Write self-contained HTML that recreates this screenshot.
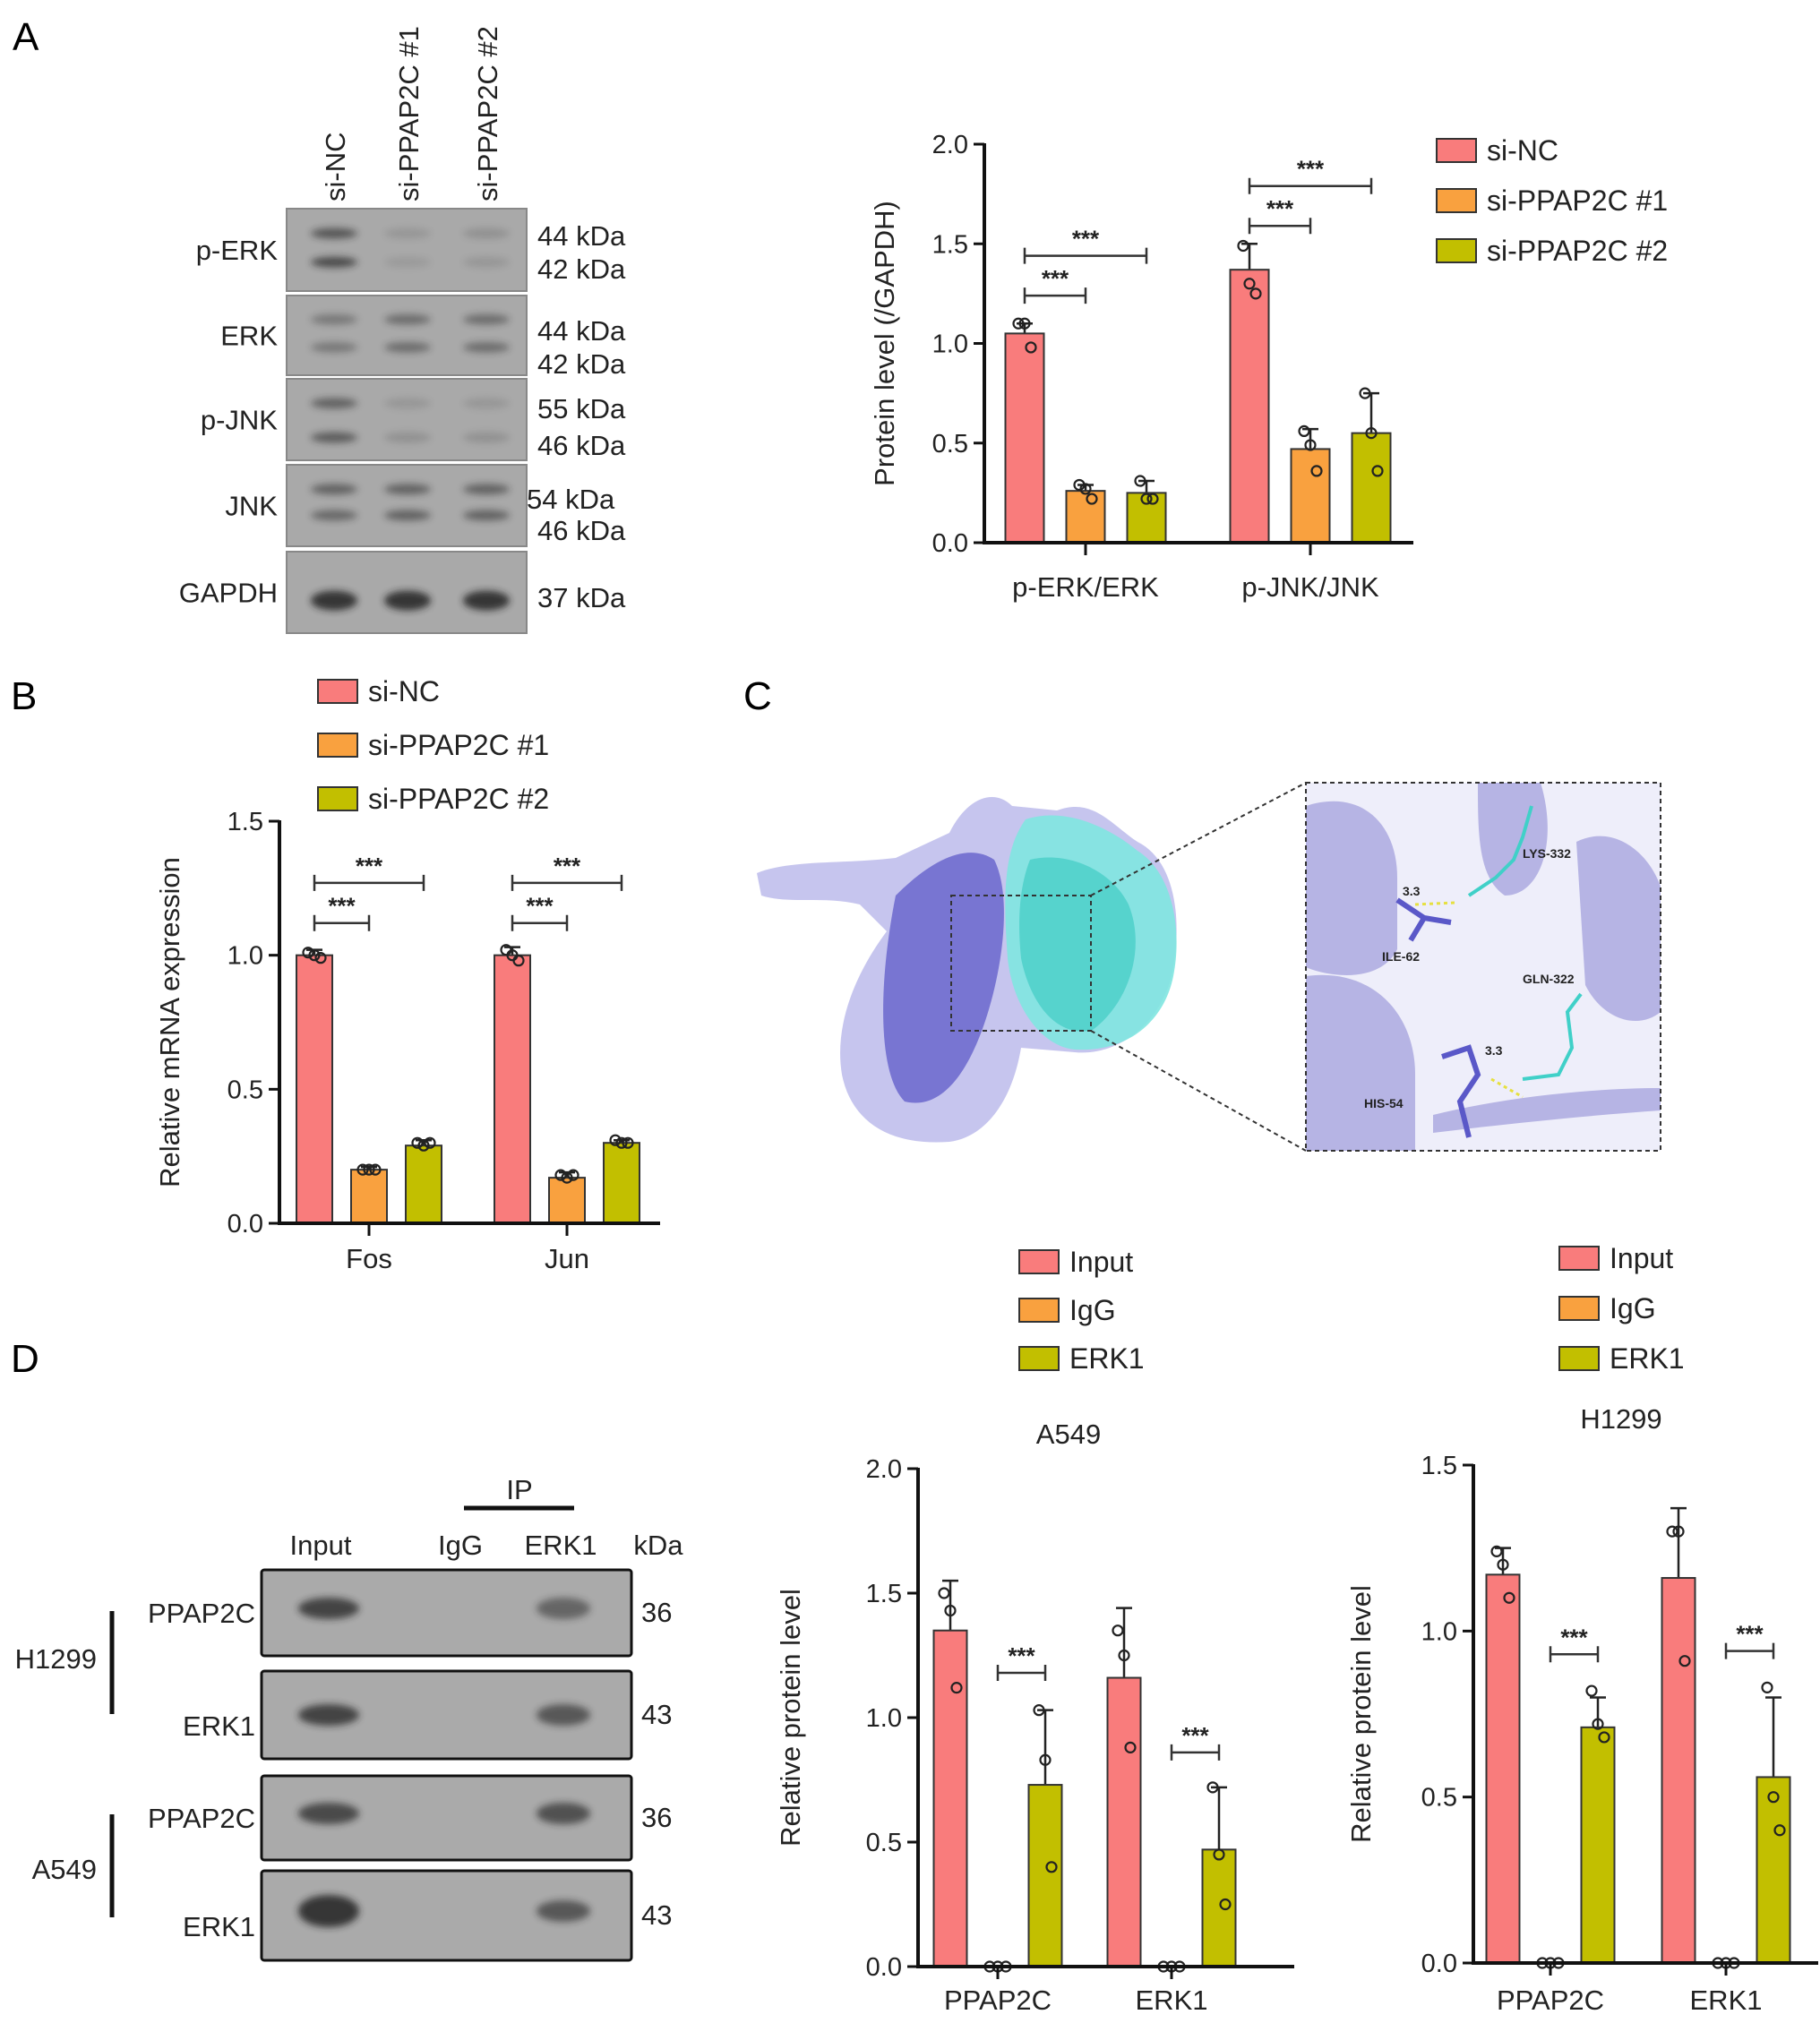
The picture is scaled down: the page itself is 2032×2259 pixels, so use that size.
<!DOCTYPE html>
<html><head><meta charset="utf-8">
<style>
html,body{margin:0;padding:0;background:#fff;}
svg{display:block;font-family:"Liberation Sans",Arial,sans-serif;}
</style></head>
<body>
<svg id="fig" width="2032" height="2259" viewBox="0 0 2032 2259" xmlns="http://www.w3.org/2000/svg">
<defs>
<filter id="blur" x="-20%" y="-100%" width="140%" height="300%"><feGaussianBlur stdDeviation="4"/></filter>
<filter id="blur2"><feGaussianBlur stdDeviation="6"/></filter>
</defs>
<g font-size="44" fill="#000">
<text x="14" y="56">A</text>
<text x="12" y="792">B</text>
<text x="830" y="792">C</text>
<text x="12" y="1532">D</text>
</g>
<g id="blotA"></g>
<g id="blotD"></g>
<g id="mol">
 <path d="M845,975 C880,960 940,965 1000,958 L1060,930 C1080,890 1110,880 1130,900 L1180,905 C1220,890 1240,920 1270,940 C1310,960 1320,1020 1310,1080 C1300,1140 1250,1180 1200,1175 L1140,1170 C1130,1230 1100,1270 1060,1275 C990,1280 950,1250 940,1200 C930,1140 960,1080 990,1040 L960,1010 C920,1000 880,1010 850,1000 Z" fill="#b8b6ea" opacity="0.8"/>
 <path d="M1145,915 C1190,900 1240,925 1270,950 C1310,975 1320,1040 1310,1090 C1300,1140 1260,1175 1200,1172 C1160,1168 1130,1120 1125,1070 C1120,1000 1120,950 1145,915 Z" fill="#7fe6e0" opacity="0.9"/>
 <path d="M1000,1000 C1040,960 1080,940 1110,960 C1130,1000 1120,1080 1100,1140 C1080,1200 1050,1240 1010,1230 C980,1200 980,1100 1000,1000 Z" fill="#6a66cc" opacity="0.85"/>
 <path d="M1150,960 C1190,950 1240,970 1260,1010 C1280,1060 1260,1120 1220,1150 C1180,1160 1150,1120 1140,1070 C1135,1020 1140,985 1150,960 Z" fill="#35c8c0" opacity="0.6"/>
 <rect x="1062" y="1000" width="156" height="151" fill="none" stroke="#333" stroke-width="2" stroke-dasharray="5,4"/>
 <line x1="1218" y1="1000" x2="1458" y2="874" stroke="#333" stroke-width="2" stroke-dasharray="5,4"/>
 <line x1="1218" y1="1151" x2="1458" y2="1285" stroke="#333" stroke-width="2" stroke-dasharray="5,4"/>
 <g>
  <rect x="1458" y="874" width="396" height="411" fill="#eeeefa"/>
  <path d="M1458,900 C1520,880 1560,920 1560,980 L1560,1060 C1540,1100 1480,1090 1458,1080 Z" fill="#b6b4e4"/>
  <path d="M1458,1090 C1530,1080 1580,1130 1580,1200 L1580,1285 L1458,1285 Z" fill="#b6b4e4"/>
  <path d="M1650,874 L1720,874 C1740,940 1720,1000 1680,1000 C1650,980 1650,930 1650,874 Z" fill="#b6b4e4"/>
  <path d="M1760,940 C1800,920 1840,950 1854,990 L1854,1130 C1830,1150 1790,1140 1770,1100 Z" fill="#b6b4e4"/>
  <path d="M1600,1245 C1680,1225 1780,1215 1854,1215 L1854,1240 C1780,1245 1680,1255 1600,1265 Z" fill="#b6b4e4"/>
  <g stroke="#40d0c8" stroke-width="4" fill="none">
   <path d="M1640,1000 L1670,980 L1690,960 L1700,935 L1710,900"/>
   <path d="M1700,1205 L1740,1200 L1755,1170 L1750,1130 L1765,1110"/>
  </g>
  <g stroke="#5a58c8" stroke-width="6" fill="none">
   <path d="M1560,1005 L1590,1025 L1620,1030 M1590,1025 L1575,1050"/>
   <path d="M1610,1180 L1640,1170 L1650,1200 L1630,1230 L1640,1270"/>
  </g>
  <line x1="1580" y1="1010" x2="1625" y2="1008" stroke="#e6e040" stroke-width="3" stroke-dasharray="4,4"/>
  <line x1="1665" y1="1205" x2="1700" y2="1225" stroke="#e6e040" stroke-width="3" stroke-dasharray="4,4"/>
  <g font-size="14" font-weight="bold" fill="#222">
   <text x="1700" y="958">LYS-332</text><text x="1566" y="1000">3.3</text>
   <text x="1543" y="1073">ILE-62</text><text x="1700" y="1098">GLN-322</text>
   <text x="1658" y="1178">3.3</text><text x="1523" y="1237">HIS-54</text>
  </g>
  <rect x="1458" y="874" width="396" height="411" fill="none" stroke="#333" stroke-width="2" stroke-dasharray="5,4"/>
 </g>
</g>
<g id="charts"></g>
</svg>
<script>
var NS="http://www.w3.org/2000/svg";
function mk(parent,tag,attrs,text){var e=document.createElementNS(NS,tag);for(var k in attrs)e.setAttribute(k,attrs[k]);if(text!==undefined)e.textContent=text;parent.appendChild(e);return e;}
var COLORS=["#f97c7c","#f9a13f","#c2bf00"];

// ---------- Chart A data ----------
var aCategories=["p-ERK/ERK","p-JNK/JNK"];
var aSeries=["si-NC","si-PPAP2C #1","si-PPAP2C #2"];
var aMeans=[[1.05,0.26,0.25],[1.37,0.47,0.55]];
var aErrTop=[[1.10,0.29,0.31],[1.50,0.57,0.75]];
var aPoints=[[[1.10,1.10,0.98],[0.29,0.27,0.22],[0.31,0.22,0.22]],[[1.49,1.30,1.25],[0.56,0.49,0.36],[0.75,0.55,0.36]]];
var aTicks=["0.0","0.5","1.0","1.5","2.0"];
var aBrackets=[[0,0,1,1.24],[0,0,2,1.44],[1,0,1,1.59],[1,0,2,1.79]];
// ---------- Chart B data ----------
var bCategories=["Fos","Jun"];
var bMeans=[[1.0,0.2,0.29],[1.0,0.17,0.30]];
var bErrTop=[[1.02,0.21,0.31],[1.03,0.19,0.31]];
var bPoints=[[[1.01,1.0,0.99],[0.2,0.2,0.2],[0.3,0.29,0.3]],[[1.02,1.0,0.98],[0.18,0.17,0.18],[0.31,0.3,0.3]]];
var bTicks=["0.0","0.5","1.0","1.5"];
var bBrackets=[[0,0,1,1.12],[0,0,2,1.27],[1,0,1,1.12],[1,0,2,1.27]];
// ---------- Chart D (A549) ----------
var dCategories=["PPAP2C","ERK1"];
var dSeries=["Input","IgG","ERK1"];
var d1Means=[[1.35,0,0.73],[1.16,0,0.47]];
var d1ErrTop=[[1.55,0,1.03],[1.44,0,0.72]];
var d1Points=[[[1.5,1.43,1.12],[0,0,0],[1.03,0.83,0.4]],[[1.35,1.25,0.88],[0,0,0],[0.72,0.45,0.25]]];
var d1Ticks=["0.0","0.5","1.0","1.5","2.0"];
var d1Brackets=[[0,1,2,1.18],[1,1,2,0.86]];
// ---------- Chart D (H1299) ----------
var d2Means=[[1.17,0,0.71],[1.16,0,0.56]];
var d2ErrTop=[[1.25,0,0.80],[1.37,0,0.80]];
var d2Points=[[[1.24,1.2,1.1],[0,0,0],[0.82,0.72,0.68]],[[1.3,1.3,0.91],[0,0,0],[0.83,0.5,0.4]]];
var d2Ticks=["0.0","0.5","1.0","1.5"];
var d2Brackets=[[0,1,2,0.93],[1,1,2,0.94]];

function chart(o){
  var g=mk(document.getElementById('charts'),'g',{});
  
  
  var max=parseFloat(o.ticks[o.ticks.length-1]);
  function y(v){return o.y0-(v/max)*(o.y0-o.yTop);}
  function x(ci,si){return o.cx[ci]+(si-1)*o.step;}
  for(var ci=0;ci<o.means.length;ci++){
    for(var si=0;si<3;si++){
      var v=o.means[ci][si],xc=x(ci,si);
      if(o.err[ci][si]>v){
        var el=mk(g,'line',{x1:xc,x2:xc,y1:y(v),y2:y(o.err[ci][si]),stroke:'#222','stroke-width':2.5});
        
        
        mk(g,'line',{x1:xc-9,x2:xc+9,y1:y(o.err[ci][si]),y2:y(o.err[ci][si]),stroke:'#222','stroke-width':2.5});
      }
      if(v>0){
        var r=mk(g,'rect',{x:xc-o.bw/2,y:y(v),width:o.bw,height:y(0)-y(v),fill:COLORS[si],stroke:'#333','stroke-width':2});
        
        
      }
      var pts=o.pts[ci][si];
      for(var k=0;k<pts.length;k++){
        var px=xc+(k-1)*(v>0.05?7:9);
        var c=mk(g,'circle',{cx:px,cy:y(pts[k]),r:5.5,fill:'none',stroke:'#222','stroke-width':2.2});
        
        
      }
    }
  }
  var ax=mk(g,'line',{x1:o.x0,x2:o.x0,y1:o.yTop-1,y2:o.y0+2,stroke:'#111','stroke-width':4});
  
  var bx=mk(g,'line',{x1:o.x0-2,x2:o.xEnd,y1:o.y0,y2:o.y0,stroke:'#111','stroke-width':4});
  
  for(var t=0;t<o.ticks.length;t++){
    var tv=parseFloat(o.ticks[t]);
    mk(g,'line',{x1:o.x0-12,x2:o.x0,y1:y(tv),y2:y(tv),stroke:'#111','stroke-width':3});
    var tl=mk(g,'text',{x:o.x0-18,y:y(tv)+10,'font-size':29,'text-anchor':'end',fill:'#222'},o.ticks[t]);
    
  }
  for(var ci=0;ci<o.cats.length;ci++){
    mk(g,'line',{x1:o.cx[ci],x2:o.cx[ci],y1:o.y0,y2:o.y0+14,stroke:'#111','stroke-width':3});
    var cl=mk(g,'text',{x:o.cx[ci],y:o.y0+o.catDy,'font-size':31,'text-anchor':'middle',fill:'#222'},o.cats[ci]);
    
  }
  var yt=mk(g,'text',{x:0,y:0,'font-size':31,'text-anchor':'middle',fill:'#222',transform:'translate('+o.titleX+','+((o.y0+o.yTop)/2)+') rotate(-90)'},o.ytitle);
  
  for(var b=0;b<o.brackets.length;b++){
    var br=o.brackets[b],x1=x(br[0],br[1]),x2=x(br[0],br[2]),yy=y(br[3]);
    var bl=mk(g,'path',{d:'M'+x1+','+(yy-9)+'V'+(yy+9)+'M'+x1+','+yy+'H'+x2+'M'+x2+','+(yy-9)+'V'+(yy+9),stroke:'#333','stroke-width':2.5,fill:'none'});
    
    mk(g,'text',{x:(x1+x2)/2,y:yy-10,'font-size':26,'font-weight':'bold','text-anchor':'middle',fill:'#222'},'***');
  }
  if(o.title){var tt=mk(g,'text',{x:o.title[1],y:o.title[2],'font-size':31,'text-anchor':'middle',fill:'#222'},o.title[0]);
    }
  for(var si=0;si<3;si++){
    var ly=o.leg[1]+si*o.leg[2];
    var lr=mk(g,'rect',{x:o.leg[0],y:ly-13,width:44,height:26,fill:COLORS[si],stroke:'#333','stroke-width':2});
    
    var lt=mk(g,'text',{x:o.leg[0]+56,y:ly+11,'font-size':32,fill:'#222'},o.series[si]);
    
  }
}
chart({name:'chart-a-protein-level',cats:aCategories,series:aSeries,means:aMeans,err:aErrTop,pts:aPoints,ticks:aTicks,brackets:aBrackets,
 x0:1099,xEnd:1578,y0:606,yTop:161,cx:[1212,1463],step:68,bw:43,catDy:60,titleX:998,ytitle:'Protein level (/GAPDH)',leg:[1604,168,56]});
chart({name:'chart-b-mrna-expression',cats:bCategories,series:aSeries,means:bMeans,err:bErrTop,pts:bPoints,ticks:bTicks,brackets:bBrackets,
 x0:312,xEnd:737,y0:1366,yTop:917,cx:[412,633],step:61,bw:40,catDy:50,titleX:200,ytitle:'Relative mRNA expression',leg:[355,772,60]});
chart({name:'chart-d-a549',cats:dCategories,series:dSeries,means:d1Means,err:d1ErrTop,pts:d1Points,ticks:d1Ticks,brackets:d1Brackets,
 x0:1025,xEnd:1445,y0:2196,yTop:1640,cx:[1114,1308],step:53,bw:37,catDy:48,titleX:893,ytitle:'Relative protein level',leg:[1138,1409,54],title:['A549',1193,1612]});
chart({name:'chart-d-h1299',cats:dCategories,series:dSeries,means:d2Means,err:d2ErrTop,pts:d2Points,ticks:d2Ticks,brackets:d2Brackets,
 x0:1645,xEnd:2030,y0:2192,yTop:1636,cx:[1731,1927],step:53,bw:37,catDy:52,titleX:1530,ytitle:'Relative protein level',leg:[1741,1405,56],title:['H1299',1810,1595]});

// ---------- Blot A ----------
var blotRows=["p-ERK","ERK","p-JNK","JNK","GAPDH"];
var blotKda=[["44 kDa","42 kDa"],["44 kDa","42 kDa"],["55 kDa","46 kDa"],["54 kDa","46 kDa"],["37 kDa"]];
var blotIntens=[[[0.7,0.15,0.2],[0.8,0.12,0.15]],[[0.4,0.5,0.5],[0.4,0.5,0.5]],[[0.6,0.15,0.15],[0.65,0.2,0.2]],[[0.6,0.6,0.6],[0.55,0.6,0.6]],[[1,1,1]]];
var laneNames=["si-NC","si-PPAP2C #1","si-PPAP2C #2"];
(function(){
  var g=document.getElementById('blotA');
  var strips=[[233,325],[330,419],[423,514],[519,610],[616,707]];
  var lanes=[373,455,543];
  var bandsY=[[0.3,0.65],[0.3,0.65],[0.3,0.72],[0.3,0.62],[0.6]];
  var kdaY=[[263,300],[369,406],[456,497],[557,592],[667]];
  for(var i=0;i<5;i++){
    var s=strips[i];
    var r=mk(g,'rect',{x:320,y:s[0],width:268,height:s[1]-s[0],fill:'#a9a9a9',stroke:'#888','stroke-width':2});
    
    for(var b=0;b<bandsY[i].length;b++){
      for(var l=0;l<3;l++){
        var it=blotIntens[i][b][l];
        mk(g,'ellipse',{cx:lanes[l],cy:s[0]+(s[1]-s[0])*bandsY[i][b],rx:26,ry:i==4?11:6,fill:'#222',opacity:it*0.85,filter:'url(#blur)'});
      }
    }
    var t=mk(g,'text',{x:310,y:(s[0]+s[1])/2+11,'font-size':31,'text-anchor':'end',fill:'#222'},blotRows[i]);
    
    for(var k=0;k<blotKda[i].length;k++){
      var kt=mk(g,'text',{x:i==3&&k==0?588:600,y:kdaY[i][k]+11,'font-size':31,fill:'#222'},blotKda[i][k]);
      
    }
  }
  for(var l=0;l<3;l++){
    var lt=mk(g,'text',{x:0,y:0,'font-size':31,fill:'#222',transform:'translate('+(lanes[l]+12)+',225) rotate(-90)'},laneNames[l]);
    
  }
})();
// ---------- Blot D ----------
var dRows=["PPAP2C","ERK1","PPAP2C","ERK1"];
var dKda=["36","43","36","43"];
var dIntens=[[0.75,0,0.5],[0.75,0,0.6],[0.7,0,0.65],[0.85,0,0.6]];
(function(){
  var g=document.getElementById('blotD');
  var strips=[[1753,1849],[1866,1964],[1983,2077],[2089,2189]];
  var lanes=[367,0,629];
  var labelDy=[0,12,0,12];
  for(var i=0;i<4;i++){
    var s=strips[i];
    var r=mk(g,'rect',{x:292,y:s[0],width:413,height:s[1]-s[0],rx:3,fill:'#aaaaaa',stroke:'#111','stroke-width':3});
    
    for(var l=0;l<3;l++){ if(dIntens[i][l]>0)
      mk(g,'ellipse',{cx:lanes[l],cy:(s[0]+s[1])/2-(i==1?0:5),rx:l==0?34:30,ry:i==3&&l==0?18:12,fill:'#222',opacity:dIntens[i][l],filter:'url(#blur)'});}
    var t=mk(g,'text',{x:285,y:(s[0]+s[1])/2+11+labelDy[i],'font-size':31,'text-anchor':'end',fill:'#222'},dRows[i]);
    
    var k=mk(g,'text',{x:716,y:(s[0]+s[1])/2+10,'font-size':31,fill:'#222'},dKda[i]);
    
  }
  var hdr=[["Input",358],["IgG",514],["ERK1",626],["kDa",735]];
  for(var h=0;h<hdr.length;h++){var ht=mk(g,'text',{x:hdr[h][1],y:1736,'font-size':31,'text-anchor':'middle',fill:'#222'},hdr[h][0]);
    }
  mk(g,'line',{x1:518,x2:641,y1:1684,y2:1684,stroke:'#111','stroke-width':5});
  mk(g,'text',{x:580,y:1674,'font-size':31,'text-anchor':'middle',fill:'#222'},'IP');
  mk(g,'line',{x1:125,x2:125,y1:1799,y2:1914,stroke:'#111','stroke-width':5});
  mk(g,'line',{x1:125,x2:125,y1:2026,y2:2141,stroke:'#111','stroke-width':5});
  var c1=mk(g,'text',{x:108,y:1863,'font-size':31,'text-anchor':'end',fill:'#222'},'H1299');
  
  var c2=mk(g,'text',{x:108,y:2098,'font-size':31,'text-anchor':'end',fill:'#222'},'A549');
  
})();
</script>
</body></html>
